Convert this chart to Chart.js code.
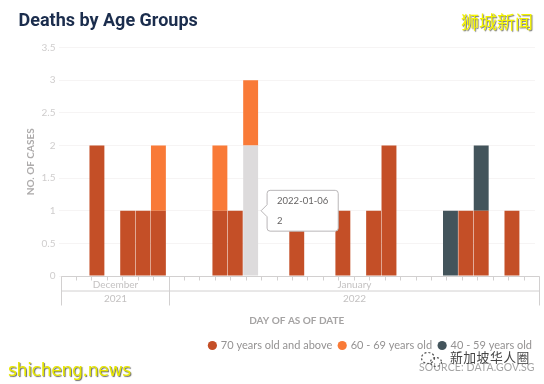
<!DOCTYPE html>
<html>
<head>
<meta charset="utf-8">
<script src="https://cdn.jsdelivr.net/npm/chart.js@4"></script>
<style>
    html, body { margin: 0; padding: 0; background: #fff; }
    #wrap { position: relative; width: 544px; height: 384px; overflow: hidden; }
    .mark { position: absolute; white-space: nowrap; }
    #wm_cn { left: 461px; top: 8px; font: 18px "Noto Sans CJK SC"; color: #f4f400; text-shadow: 1px 1px 1px #777; }
    #wm_en { left: 8px; top: 360px; font: 17.3px "DejaVu Sans"; letter-spacing: -0.4px; color: #e8e800; text-shadow: 1px 1px 1px #666; }
    #wm_wx { left: 450px; top: 347px; font: 12.8px "Noto Sans CJK SC"; color: #444; letter-spacing: 0.5px; }
    #wm_icon { left: 420px; top: 351px; }
    #source { left: 419px; top: 361px; font: 10.5px Lato; letter-spacing: 0.1px; color: #a5a5a5; }
</style>
</head>
<body>
<div id="wrap">
    <canvas id="graph_deaths" width="544" height="384"></canvas>
    <div class="mark" id="wm_cn">狮城新闻</div>
    <div class="mark" id="wm_en">shicheng.news</div>
    <div class="mark" id="source">SOURCE: DATA.GOV.SG</div>
    <svg class="mark" id="wm_icon" width="24" height="18" fill="none" stroke="#555" stroke-width="1.2" stroke-dasharray="2 2">
        <ellipse cx="8" cy="7" rx="6.5" ry="5.5"/>
        <ellipse cx="16" cy="11" rx="5.5" ry="4.5"/>
    </svg>
    <div class="mark" id="wm_wx">新加坡华人圈</div>
</div>
<script>
const fecha = [
    '2021-12-25','2021-12-26','2021-12-27','2021-12-28','2021-12-29','2021-12-30','2021-12-31',
    '2022-01-01','2022-01-02','2022-01-03','2022-01-04','2022-01-05','2022-01-06','2022-01-07',
    '2022-01-08','2022-01-09','2022-01-10','2022-01-11','2022-01-12','2022-01-13','2022-01-14',
    '2022-01-15','2022-01-16','2022-01-17','2022-01-18','2022-01-19','2022-01-20','2022-01-21',
    '2022-01-22','2022-01-23','2022-01-24'
];
const age70 = [0,0,2,0,1,1,1, 0,0,0,1,1,2,0, 0,1,0,0,1,0,1, 2,0,0,0,0,1,1, 0,1,0];
const age40 = [0,0,0,0,0,0,0, 0,0,0,0,0,0,0, 0,0,0,0,0,0,0, 0,0,0,0,1,0,1, 0,0,0];
const age60 = [0,0,0,0,0,0,1, 0,0,0,1,0,1,0, 0,0,0,0,0,0,0, 0,0,0,0,0,0,0, 0,0,0];
const months = [{label: 'December', from: 0, to: 7}, {label: 'January', from: 7, to: 31}];
const years = [{label: '2021', from: 0, to: 7}, {label: '2022', from: 7, to: 31}];
const yTicks = [0, 0.5, 1, 1.5, 2, 2.5, 3, 3.5];

const FONT = 'Lato';

// eje de fechas en varios niveles, se pinta a mano sobre la escala x
const dateTree = {
    id: 'dateTree',
    beforeDraw(chart) {
        // la leyenda llega casi hasta el borde derecho
        chart.legend.right = chart.width - 5;
    },
    afterDraw(chart) {
        const ctx = chart.ctx;
        const xs = chart.scales.x;
        const base = chart.scales.y.getPixelForValue(0) + 0.5;
        const left = xs.left + 2;
        const step = (xs.right + 4 - left) / fecha.length;
        const px = i => Math.round(left + i * step) + 0.5;
        const row1 = base + 14.5;
        const row2 = base + 29;

        ctx.save();
        ctx.strokeStyle = '#d2d0d0';
        ctx.lineWidth = 1;
        ctx.beginPath();
        ctx.moveTo(px(0), base);
        ctx.lineTo(px(fecha.length), base);
        ctx.moveTo(px(0), row1);
        ctx.lineTo(px(fecha.length), row1);
        for (let i = 0; i <= fecha.length; i++) {
            ctx.moveTo(px(i), base);
            ctx.lineTo(px(i), base + 4);
        }
        [0, 7, fecha.length].forEach(i => {
            ctx.moveTo(px(i), base);
            ctx.lineTo(px(i), row2);
        });
        ctx.stroke();

        ctx.font = '10px ' + FONT;
        ctx.fillStyle = '#c4c2c2';
        ctx.textAlign = 'center';
        ctx.textBaseline = 'middle';
        months.forEach(m => ctx.fillText(m.label, (px(m.from) + px(m.to)) / 2, base + 8));
        years.forEach(y => ctx.fillText(y.label, (px(y.from) + px(y.to)) / 2, base + 22));
        ctx.restore();
    }
};

Chart.Tooltip.positioners.besideBar = function(items) {
    if (!items.length) return false;
    const bar = items[0].element;
    return {x: bar.x + bar.width / 2 + 3, y: this.chart.scales.y.getPixelForValue(1)};
};

const data_graph = {
    labels: fecha,
    datasets: [{
        label: '70 years old and above',
        data: age70,
        backgroundColor: '#c44f27',
        hoverBackgroundColor: '#dddbdc',
        barPercentage: 0.97,
        categoryPercentage: 1
    },{
        label: '60 - 69 years old',
        data: age60,
        backgroundColor: '#f97a37',
        barPercentage: 0.97,
        categoryPercentage: 1
    },{
        label: '40 - 59 years old',
        data: age40,
        backgroundColor: '#43545b',
        barPercentage: 0.97,
        categoryPercentage: 1
    }]
};

const config = {
    type: 'bar',
    data: data_graph,
    plugins: [dateTree],
    options: {
        responsive: false,
        animation: false,
        layout: {padding: {left: 18.5, right: 9, top: 7, bottom: 23}},
        scales: {
            x: {
                stacked: true,
                afterFit: function(scale) { scale.height = 57; },
                border: {display: false},
                grid: {display: false},
                ticks: {display: false},
                title: {
                    display: true,
                    text: 'DAY OF AS OF DATE',
                    color: '#a5a3a3',
                    font: {family: FONT, size: 10, weight: 'bold'},
                    padding: {top: 0, bottom: 6}
                }
            },
            y: {
                stacked: true,
                min: 0,
                max: 3.5,
                afterBuildTicks: function(scale) { scale.ticks = yTicks.map(v => ({value: v})); },
                afterFit: function(scale) { scale.width = 40; },
                border: {display: false},
                grid: {color: '#f6f4f4', drawTicks: false},
                ticks: {
                    color: '#cfcdcd',
                    padding: 3,
                    font: {family: FONT, size: 10},
                    callback: function(value) { return String(value); }
                },
                title: {
                    display: true,
                    text: 'NO. OF CASES',
                    color: '#adabab',
                    font: {family: FONT, size: 10, weight: 'bold'},
                    padding: {top: 6, bottom: 0}
                }
            }
        },
        plugins: {
            title: {
                display: true,
                text: 'Deaths by Age Groups',
                align: 'start',
                color: '#1b2d4d',
                font: {family: 'Roboto', size: 18, weight: 'bold'},
                padding: {top: 4, bottom: 15}
            },
            legend: {
                position: 'bottom',
                align: 'end',
                labels: {
                    usePointStyle: true,
                    pointStyle: 'circle',
                    boxWidth: 6,
                    boxHeight: 6.5,
                    padding: 7,
                    color: '#949292',
                    font: {family: FONT, size: 11}
                }
            },
            tooltip: {
                position: 'besideBar',
                xAlign: 'left',
                yAlign: 'center',
                displayColors: false,
                backgroundColor: '#ffffff',
                borderColor: '#b9b6b8',
                borderWidth: 1,
                cornerRadius: 3,
                caretSize: 6,
                caretPadding: 0,
                padding: {x: 10, y: 5},
                titleColor: '#666464',
                bodyColor: '#666464',
                titleFont: {family: FONT, size: 9.5, weight: 'normal'},
                bodyFont: {family: FONT, size: 9.5},
                titleMarginBottom: 8,
                callbacks: {
                    label: function(item) { return String(item.raw); }
                }
            }
        }
    }
};

const deaths_chart = new Chart(document.getElementById('graph_deaths'), config);

const activos = [{datasetIndex: 0, index: fecha.indexOf('2022-01-06')}];
deaths_chart.setActiveElements(activos);
deaths_chart.tooltip.setActiveElements(activos, {x: 0, y: 0});
deaths_chart.update('none');
</script>
</body>
</html>
